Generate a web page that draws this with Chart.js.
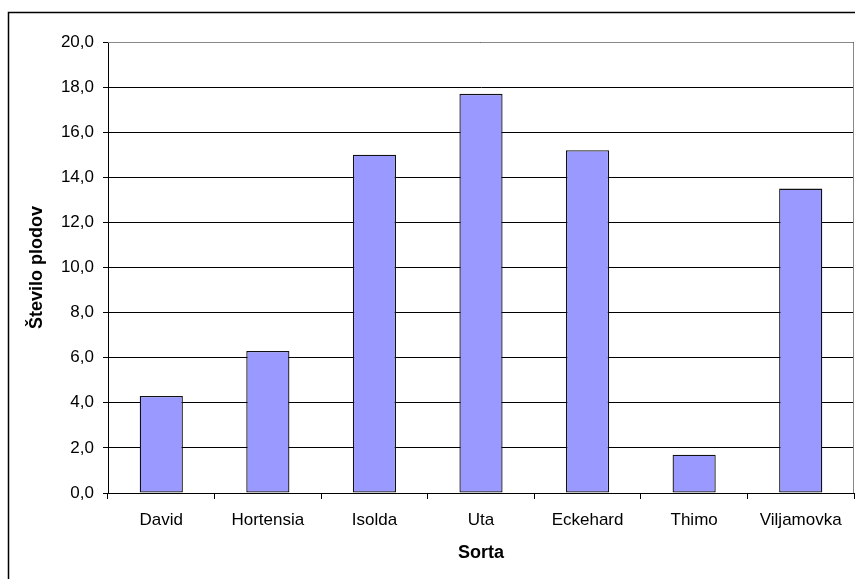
<!DOCTYPE html>
<html>
<head>
<meta charset="utf-8">
<script src="https://cdn.jsdelivr.net/npm/chart.js@4/dist/chart.umd.min.js"></script>
<style>
  html, body { margin: 0; padding: 0; background: #fff; }
  #wrap { position: relative; width: 855px; height: 579px; }
</style>
</head>
<body>
<div id="wrap"><canvas id="c" width="855" height="579"></canvas></div>
<script>
// Number of fruits per cultivar
const categories = ['David', 'Hortensia', 'Isolda', 'Uta', 'Eckehard', 'Thimo', 'Viljamovka'];
const fruitCounts = [4.3, 6.3, 15.0, 17.7, 15.2, 1.7, 13.5];
const yTicks = [0, 2, 4, 6, 8, 10, 12, 14, 16, 18, 20];
const xTitle = 'Sorta';
const yTitle = 'Število plodov';

const FONT = '"Liberation Sans", Arial, sans-serif';
const FONT_SIZE = 17;

// Outer frame, plot-area border and the two axis titles
const decor = {
  id: 'decor',
  beforeDraw(chart) {
    const ctx = chart.ctx;
    ctx.save();
    ctx.fillStyle = '#fff';
    ctx.fillRect(0, 0, chart.width, chart.height);
    ctx.strokeStyle = '#000';
    ctx.lineWidth = 1.5;
    ctx.strokeRect(8.5, 12.5, 2000, 2000);
    ctx.restore();
  },
  afterDraw(chart) {
    const ctx = chart.ctx;
    const a = chart.chartArea;
    ctx.save();
    ctx.strokeStyle = '#888';
    ctx.lineWidth = 1;
    ctx.beginPath();
    ctx.moveTo(a.left, a.top + 0.5);
    ctx.lineTo(a.right - 0.5, a.top + 0.5);
    ctx.lineTo(a.right - 0.5, a.bottom);
    ctx.stroke();
    ctx.fillStyle = '#000';
    ctx.font = 'bold 18px ' + FONT;
    ctx.textAlign = 'center';
    ctx.textBaseline = 'middle';
    ctx.fillText(xTitle, (a.left + a.right) / 2, 553);
    ctx.translate(37, (a.top + a.bottom) / 2);
    ctx.rotate(-Math.PI / 2);
    ctx.fillText(yTitle, 0, 0);
    ctx.restore();
  }
};

new Chart(document.getElementById('c'), {
  type: 'bar',
  data: {
    labels: categories,
    datasets: [{
      data: fruitCounts,
      backgroundColor: '#9999ff',
      borderColor: '#111',
      borderWidth: 1.3,
      borderSkipped: false,
      categoryPercentage: 1.0,
      barPercentage: 0.405
    }]
  },
  options: {
    responsive: false,
    animation: false,
    devicePixelRatio: 1,
    layout: { padding: { top: 42, right: 1, left: 0, bottom: 0 } },
    plugins: { legend: { display: false }, tooltip: { enabled: false } },
    scales: {
      x: {
        offset: true,
        grid: { offset: true, drawOnChartArea: false, drawTicks: true, tickLength: 6, color: '#000', lineWidth: 1 },
        border: { color: '#000', width: 1 },
        ticks: { color: '#000', font: { family: FONT, size: FONT_SIZE }, padding: 11, maxRotation: 0, autoSkip: false },
        afterFit(s) { s.height = 86; }
      },
      y: {
        min: 0,
        max: 20,
        afterBuildTicks(s) { s.ticks = yTicks.map(v => ({ value: v })); },
        grid: { drawOnChartArea: true, drawTicks: true, tickLength: 5, color: '#000', lineWidth: 1 },
        border: { color: '#000', width: 1 },
        ticks: {
          color: '#000',
          font: { family: FONT, size: FONT_SIZE },
          padding: 9,
          callback: v => v.toFixed(1).replace('.', ',')
        },
        afterFit(s) { s.width = 108; }
      }
    }
  },
  plugins: [decor]
});
</script>
</body>
</html>
